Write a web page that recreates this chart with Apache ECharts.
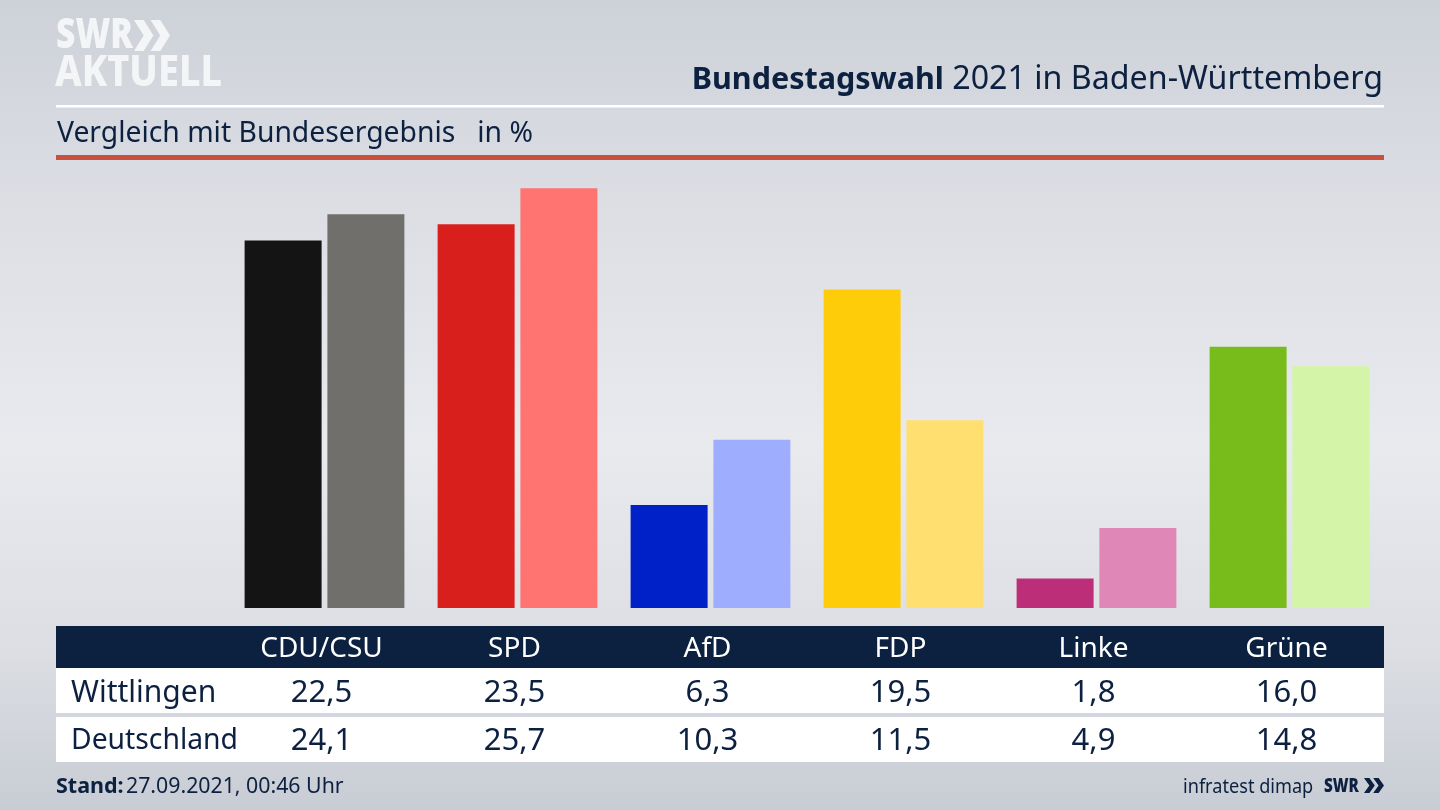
<!DOCTYPE html>
<html>
<head>
<meta charset="utf-8">
<title>Bundestagswahl 2021 in Baden-Württemberg</title>
<script src="https://cdn.jsdelivr.net/npm/echarts@6/dist/echarts.min.js"></script>
<style>
    html, body { margin: 0; padding: 0; }
    #main { width: 1440px; height: 810px; }
</style>
</head>
<body>
<div id="main"></div>
<script>
var parties = ['CDU/CSU', 'SPD', 'AfD', 'FDP', 'Linke', 'Grüne'];
var wittlingen = [22.5, 23.5, 6.3, 19.5, 1.8, 16.0];
var deutschland = [24.1, 25.7, 10.3, 11.5, 4.9, 14.8];
var darkColors = ['#141414', '#d81f1c', '#0020c8', '#ffcc0a', '#bd2e78', '#78bc1c'];
var lightColors = ['#706f6c', '#ff7370', '#9fadff', '#ffdf6f', '#df87b6', '#d4f5a8'];

var navy = '#0c2040';
var font = '"Noto Sans", sans-serif';

var chart = echarts.init(document.getElementById('main'));

// Zahlen mit Komma wie im Original
function fmt(v) {
    return v.toFixed(1).replace('.', ',');
}

function colored(values, colors) {
    return values.map(function (v, i) {
        return { value: v, itemStyle: { color: colors[i] } };
    });
}

// Tabellenzeile unter den Balken, als eigene Kategorieachse
function tableAxis(labels, margin, color, size) {
    return {
        type: 'category',
        position: 'bottom',
        data: labels,
        axisLine: { show: false },
        axisTick: { show: false },
        axisLabel: {
            interval: 0,
            margin: margin,
            color: color,
            fontFamily: font,
            fontSize: size,
            verticalAlign: 'middle',
            padding: [0, 6, 0, 0]
        }
    };
}

function rect(x, y, w, h, color) {
    return { type: 'rect', z: -1, silent: true, shape: { x: x, y: y, width: w, height: h }, style: { fill: color } };
}

function label(x, y, text, size, color, extra, scaleX) {
    return {
        type: 'text', x: x, y: y, z: 5, silent: true, scaleX: scaleX || 1,
        style: Object.assign({
            text: text, fill: color, font: size + 'px ' + font, textVerticalAlign: 'middle'
        }, extra || {})
    };
}

// Doppelpfeil im Logo
function chevrons(x, y, w, h, color) {
    return [0, 0.46].map(function (k) {
        var x0 = x + k * w;
        var s = w * 0.54;
        return {
            type: 'polygon', z: 5, silent: true,
            shape: { points: [
                [x0, y], [x0 + s * 0.5, y], [x0 + s, y + h / 2],
                [x0 + s * 0.5, y + h], [x0, y + h], [x0 + s * 0.5, y + h / 2]
            ] },
            style: { fill: color }
        };
    });
}

var graphics = [
    rect(56, 105, 1328, 2.5, '#ffffff'),
    rect(56, 155, 1328, 5, '#c8503c'),
    rect(56, 626, 1328, 42, navy),
    rect(56, 668, 1328, 45, '#ffffff'),
    rect(56, 717, 1328, 45, '#ffffff'),
    label(56, 36, 'SWR', 42, '#f4f5f7', { font: '900 42px ' + font }, 0.8),
    label(55, 74, 'AKTUELL', 42, '#f4f5f7', { font: '800 42px ' + font }, 0.9),
    {
        type: 'text', x: 1383, y: 80, z: 5, silent: true,
        style: {
            text: '{b|Bundestagswahl}{n| 2021 in Baden-Württemberg}',
            align: 'right',
            verticalAlign: 'middle',
            rich: {
                b: { font: '700 30.5px ' + font, fill: navy },
                n: { font: '32.2px ' + font, fill: navy }
            }
        }
    },
    label(57, 134, 'Vergleich mit Bundesergebnis   in %', 28.3, navy),
    label(71, 693, 'Wittlingen', 30, navy),
    label(71, 741, 'Deutschland', 28.3, navy),
    label(56, 787, 'Stand:', 21.5, navy, { font: '700 21.5px ' + font }),
    label(126, 787, '27.09.2021, 00:46 Uhr', 21.3, navy),
    label(1183, 787, 'infratest dimap', 19.5, navy, null, 0.93),
    label(1324, 787, 'SWR', 19, navy, { font: '900 19px ' + font }, 0.8)
];
graphics = graphics.concat(chevrons(134, 20, 36, 31, '#f4f5f7'), chevrons(1364, 778, 20, 15, navy));

var option = {
    animation: false,
    backgroundColor: {
        type: 'linear', x: 0, y: 0, x2: 0, y2: 1,
        colorStops: [
            { offset: 0, color: '#cdd1d8' },
            { offset: 0.25, color: '#dcdee4' },
            { offset: 0.55, color: '#e9eaee' },
            { offset: 0.8, color: '#dcdee3' },
            { offset: 1, color: '#c8ccd4' }
        ]
    },
    grid: { left: 228, top: 167, width: 1158, height: 441 },
    xAxis: [
        tableAxis(parties, 41, '#ffffff', 28),
        tableAxis(wittlingen.map(fmt), 85, navy, 31),
        tableAxis(deutschland.map(fmt), 133, navy, 31)
    ],
    yAxis: { type: 'value', min: 0, max: 27, show: false },
    series: [
        {
            name: 'Wittlingen',
            type: 'bar',
            barWidth: 77,
            barGap: '7.5%',
            data: colored(wittlingen, darkColors)
        },
        {
            name: 'Deutschland',
            type: 'bar',
            barWidth: 77,
            data: colored(deutschland, lightColors)
        }
    ],
    graphic: graphics
};

chart.setOption(option);
window.addEventListener('resize', function () {
    chart.resize();
});
</script>
</body>
</html>
